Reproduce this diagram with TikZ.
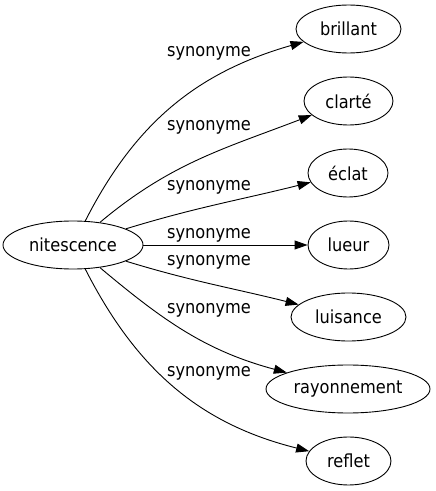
\documentclass[tikz,border=0pt]{standalone}
\usepackage{fontspec}
\setmainfont{DejaVu Sans Condensed}
\usetikzlibrary{arrows.meta, shapes.geometric}

\begin{document}
\begin{tikzpicture}[x=1pt, y=1pt,
        word/.style={draw, ellipse, line width=0.9pt, minimum height=48pt, inner sep=0pt, font=\fontsize{18}{20}\selectfont},
        rel/.style={font=\fontsize{18}{20}\selectfont, inner sep=0pt},
        syn/.style={line width=0.9pt, -{Triangle[length=13pt, width=9pt]}}]
                \useasboundingbox (0, 0) rectangle (436, 491);
                \node[word, minimum width=140pt] (nit) at (73, 246) {nitescence};
                \node[word, minimum width=105pt] (bri) at (348.5, 462) {brillant};
                \node[word, minimum width=89pt] (cla) at (348.5, 390) {clarté};
                \node[word, minimum width=80pt] (ecl) at (348, 318) {éclat};
                \node[word, minimum width=81pt] (lue) at (348.5, 246) {lueur};
                \node[word, minimum width=115pt] (lui) at (348.5, 174) {luisance};
                \node[word, minimum width=164pt] (ray) at (348, 102) {rayonnement};
                \node[word, minimum width=85pt] (ref) at (348.5, 30) {reflet};

                \node[rel] (sbri) at (209, 438) {synonyme};
                \node[rel] (scla) at (209, 364) {synonyme};
                \node[rel] (secl) at (209, 304) {synonyme};
                \node[rel] (slue) at (209, 256) {synonyme};
                \node[rel] (slui) at (209, 229) {synonyme};
                \node[rel] (sray) at (209, 181) {synonyme};
                \node[rel] (sref) at (209, 118) {synonyme};

                \draw[syn]
                (nit) to[out=63, in=196] (bri);
                \draw[syn]
                (nit) to[out=40, in=201] (cla);
                \draw[syn]
                (nit) to[out=17, in=194] (ecl);
                \draw[syn]
                (nit) -- (lue);
                \draw[syn]
                (nit) to[out=-17, in=166] (lui);
                \draw[syn]
                (nit) to[out=-40, in=165] (ray);
                \draw[syn]
                (nit) to[out=-63, in=166] (ref);
            \end{tikzpicture}
\end{document}
